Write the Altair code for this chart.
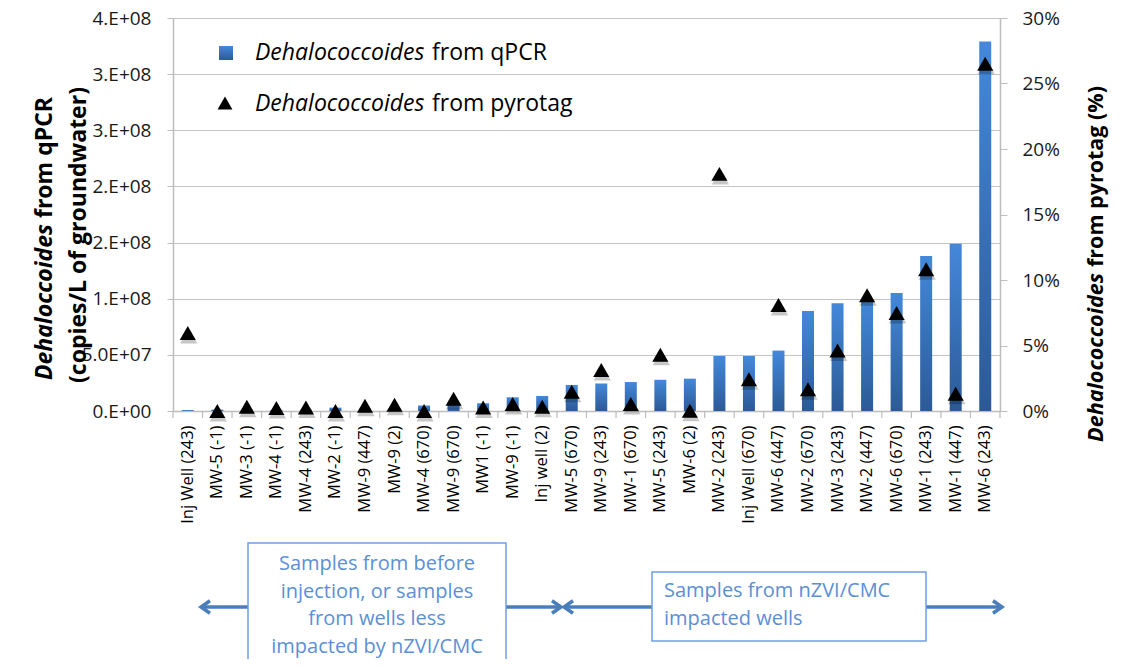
import altair as alt
import pandas as pd

# ---------------- data ----------------
categories = [
    "Inj Well (243)", "MW-5 (-1)", "MW-3 (-1)", "MW-4 (-1)", "MW-4 (243)",
    "MW-2 (-1)", "MW-9 (447)", "MW-9 (2)", "MW-4 (670)", "MW-9 (670)",
    "MW1 (-1)", "MW-9 (-1)", "Inj well (2)", "MW-5 (670)", "MW-9 (243)",
    "MW-1 (670)", "MW-5 (243)", "MW-6 (2)", "MW-2 (243)", "Inj Well (670)",
    "MW-6 (447)", "MW-2 (670)", "MW-3 (243)", "MW-2 (447)", "MW-6 (670)",
    "MW-1 (243)", "MW-1 (447)", "MW-6 (243)",
]
qpcr_copies = [
    0.8e6, 1.2e6, 1.0e6, 1.0e6, 1.2e6,
    3.0e6, 2.0e6, 2.5e6, 4.8e6, 6.0e6,
    6.9e6, 1.22e7, 1.34e7, 2.32e7, 2.45e7,
    2.58e7, 2.78e7, 2.88e7, 4.9e7, 4.9e7,
    5.38e7, 8.9e7, 9.6e7, 9.9e7, 1.05e8,
    1.38e8, 1.49e8, 3.29e8,
]
pyrotag_pct = [
    5.95, 0.0, 0.33, 0.23, 0.27,
    0.0, 0.40, 0.47, 0.0, 0.94,
    0.27, 0.53, 0.32, 1.47, 3.13,
    0.53, 4.29, 0.02, 18.1, 2.43,
    8.09, 1.66, 4.62, 8.83, 7.48,
    10.82, 1.32, 26.5,
]
left_tick_values = [0, 5e7, 1e8, 1.5e8, 2e8, 2.5e8, 3e8, 3.5e8]
left_tick_labels = ["0.E+00", "5.0E+07", "1.E+08", "2.E+08", "2.E+08", "3.E+08", "3.E+08", "4.E+08"]
right_tick_values = [0, 5, 10, 15, 20, 25, 30]

legend_italic = "Dehalococcoides"
legend_rest = ["from qPCR", "from pyrotag"]
left_title_italic = "Dehaloccoides"
left_title_rest = "from qPCR"
left_title_line2 = "(copies/L of groundwater)"
right_title_italic = "Dehalococcoides"
right_title_rest = "from pyrotag (%)"
box_left_lines = ["Samples from before", "injection, or samples", "from wells less", "impacted by nZVI/CMC"]
box_right_lines = ["Samples from nZVI/CMC", "impacted wells"]

df = pd.DataFrame({"sample": categories, "qpcr": qpcr_copies, "pyro": pyrotag_pct})
one = pd.DataFrame({"k": [0]})

FONT = "Open Sans"
W, H = 827, 393
GRID = "#c4c4c4"
AX = "#bdbdbd"
TXT = "#1a1a1a"
ARROW = "#4a7ebb"
BOXTXT = "#5b8fd6"
BOXLINE = "#6d9ee6"

bar_grad = alt.Gradient(
    gradient="linear",
    stops=[alt.GradientStop(color="#4488da", offset=0), alt.GradientStop(color="#2b5a96", offset=1)],
    x1=0, x2=0, y1=0, y2=1,
)

x_axis = alt.Axis(
    title=None, labelAngle=270, labelAlign="right", labelBaseline="middle",
    labelFont=FONT, labelFontSize=16.5, labelColor="#000000", labelPadding=14,
    ticks=False, tickSize=0, domainColor=AX, domainWidth=1.5, grid=False,
)
xs = alt.Scale(paddingInner=0, paddingOuter=0)

left_expr = "[" + ",".join("'" + s + "'" for s in left_tick_labels) + "][round(datum.value/5e7)]"
left_axis = alt.Axis(
    title=None, orient="left", values=left_tick_values, labelExpr=left_expr,
    grid=True, gridColor=GRID, gridWidth=1.2, domainColor=AX, domainWidth=1.5,
    tickColor=AX, tickSize=6, labelPadding=16, labelFont=FONT, labelFontSize=19,
    labelColor=TXT,
)
right_axis = alt.Axis(
    title=None, orient="right", values=right_tick_values, labelExpr="datum.value + '%'",
    grid=False, domainColor=AX, domainWidth=1.5, tickColor=AX, tickSize=7,
    labelPadding=15, labelFont=FONT, labelFontSize=19, labelColor=TXT,
)

bars = alt.Chart(df).mark_bar(width=12, color=bar_grad).encode(
    x=alt.X("sample:N", sort=categories, scale=xs, axis=x_axis),
    y=alt.Y("qpcr:Q", scale=alt.Scale(domain=[0, 3.5e8], nice=False), axis=left_axis),
)

xticks = alt.Chart(df).mark_rule(color=AX, strokeWidth=1.2).encode(
    x=alt.X("sample:N", sort=categories, scale=xs, axis=x_axis, bandPosition=0),
    y=alt.value(H), y2=alt.value(H + 7),
)
xtick_end = alt.Chart(one).mark_rule(color=AX, strokeWidth=1.2).encode(
    x=alt.value(W), y=alt.value(H), y2=alt.value(H + 7),
)

yr = alt.Scale(domain=[0, 30], nice=False)
tri_shadow = alt.Chart(df).mark_point(
    shape="triangle-up", filled=True, color="#000000", opacity=0.22, size=300, xOffset=1, yOffset=3
).encode(
    x=alt.X("sample:N", sort=categories, scale=xs, axis=x_axis),
    y=alt.Y("pyro:Q", scale=yr, axis=right_axis),
)
tri = alt.Chart(df).mark_point(
    shape="triangle-up", filled=True, color="#000000", opacity=1, size=260
).encode(
    x=alt.X("sample:N", sort=categories, scale=xs, axis=x_axis),
    y=alt.Y("pyro:Q", scale=yr, axis=right_axis),
)
triangles = alt.layer(tri_shadow, tri)


def text(t, x, y, **kw):
    base = dict(font=FONT, baseline="middle", color="#000000")
    base.update(kw)
    return alt.Chart(one).mark_text(text=t, **base).encode(x=alt.value(x), y=alt.value(y))


# legend
leg_sq = alt.Chart(one).mark_rect(color=bar_grad).encode(
    x=alt.value(46), x2=alt.value(60), y=alt.value(28), y2=alt.value(42)
)
leg_tri = alt.Chart(one).mark_point(shape="triangle-up", filled=True, color="#000000", opacity=1, size=220).encode(
    x=alt.value(52), y=alt.value(85)
)
leg_t = [
    text(legend_italic, 82, 35, fontSize=23, fontStyle="italic", align="left"),
    text(legend_rest[0], 259, 35, fontSize=23, align="left"),
    text(legend_italic, 82, 86, fontSize=23, fontStyle="italic", align="left"),
    text(legend_rest[1], 259, 86, fontSize=23, align="left"),
]

# axis titles
titles = [
    text(left_title_italic, -128, 206, fontSize=23, fontWeight="bold", fontStyle="italic", angle=270, align="right"),
    text(left_title_rest, -128, 200, fontSize=23, fontWeight="bold", angle=270, align="left"),
    text(left_title_line2, -94, 217, fontSize=23, fontWeight="bold", angle=270, align="center"),
    text(right_title_italic, 924, 255, fontSize=21.5, fontWeight="bold", fontStyle="italic", angle=270, align="right"),
    text(right_title_rest, 924, 249, fontSize=21.5, fontWeight="bold", angle=270, align="left"),
]

# arrows and boxes below
AY = 589
arrow_lines = [
    alt.Chart(one).mark_rule(color=ARROW, strokeWidth=3.5).encode(x=alt.value(28), x2=alt.value(388), y=alt.value(AY)),
    alt.Chart(one).mark_rule(color=ARROW, strokeWidth=3.5).encode(x=alt.value(391), x2=alt.value(829), y=alt.value(AY)),
]
LEFT_HEAD = "M1,-0.7L0,0L1,0.7"
RIGHT_HEAD = "M-1,-0.7L0,0L-1,0.7"
heads = [
    alt.Chart(one).mark_point(shape=LEFT_HEAD, filled=False, color=ARROW, strokeWidth=3.5, opacity=1, size=324).encode(x=alt.value(28), y=alt.value(AY)),
    alt.Chart(one).mark_point(shape=RIGHT_HEAD, filled=False, color=ARROW, strokeWidth=3.5, opacity=1, size=324).encode(x=alt.value(388), y=alt.value(AY)),
    alt.Chart(one).mark_point(shape=LEFT_HEAD, filled=False, color=ARROW, strokeWidth=3.5, opacity=1, size=324).encode(x=alt.value(391), y=alt.value(AY)),
    alt.Chart(one).mark_point(shape=RIGHT_HEAD, filled=False, color=ARROW, strokeWidth=3.5, opacity=1, size=324).encode(x=alt.value(829), y=alt.value(AY)),
]
boxes = [
    alt.Chart(one).mark_rect(fill="#ffffff", stroke=BOXLINE, strokeWidth=1.5).encode(
        x=alt.value(75), x2=alt.value(333), y=alt.value(525), y2=alt.value(700)),
    alt.Chart(one).mark_rect(fill="#ffffff", stroke=BOXLINE, strokeWidth=1.5).encode(
        x=alt.value(479), x2=alt.value(753), y=alt.value(554), y2=alt.value(623)),
]
box_texts = [
    alt.Chart(one).mark_text(text=box_left_lines, font=FONT, fontSize=20, color=BOXTXT, align="center",
                             baseline="alphabetic", lineHeight=27.7).encode(x=alt.value(204), y=alt.value(552)),
    alt.Chart(one).mark_text(text=box_right_lines, font=FONT, fontSize=20, color=BOXTXT, align="left",
                             baseline="alphabetic", lineHeight=28).encode(x=alt.value(491), y=alt.value(579)),
]

chart = alt.layer(
    alt.layer(bars, xticks, xtick_end),
    triangles,
    leg_sq, leg_tri, *leg_t, *titles, *arrow_lines, *heads, *boxes, *box_texts,
).resolve_scale(y="independent").properties(
    width=W, height=H,
    padding={"left": 165, "top": 10, "right": 112, "bottom": 248},
    autosize=alt.AutoSizeParams(type="none"),
).configure_view(strokeWidth=0).configure(background="#ffffff")

chart.save("out.html", embed_options={"renderer": "svg", "actions": False})
